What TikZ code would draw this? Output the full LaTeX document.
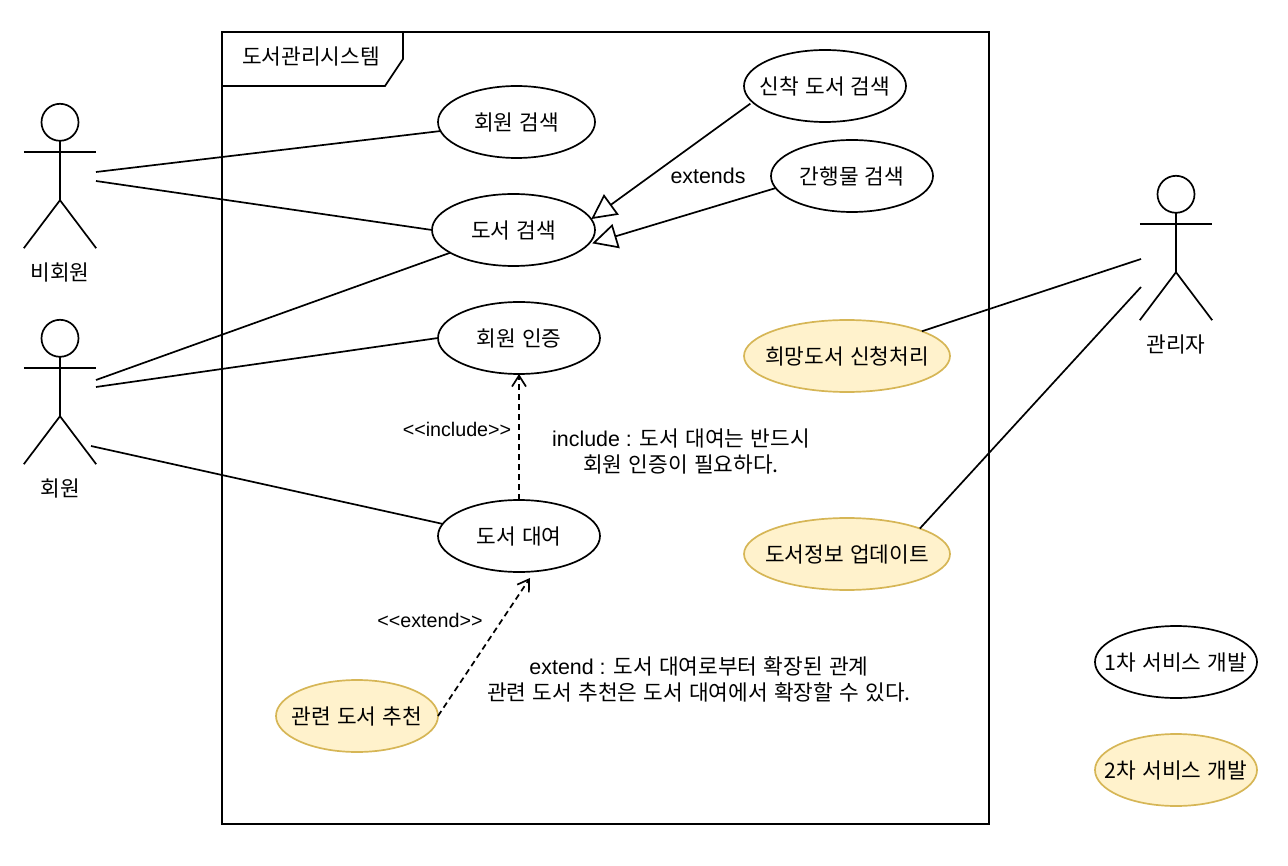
\documentclass[tikz,border=0pt]{standalone}
\usepackage{fontspec}
\setmainfont{Liberation Sans}
\newfontfamily\kr[WordSpace=1.3]{Noto Sans CJK KR}
\usetikzlibrary{arrows.meta,positioning,shapes.geometric}

\newcommand{\uc}[1]{\makebox[0pt]{\kr #1}}
\newcommand{\actor}[3]{%
    \node[actorbox] (#1) at #2 {};
    \draw[line] ([yshift=-18.5pt]#1.north) circle[radius=18.5pt];
    \draw[line] ([yshift=-37pt]#1.north) -- ([yshift=48pt]#1.south)
        -- (#1.south west) ([yshift=48pt]#1.south) -- (#1.south east);
    \draw[line] ([yshift=24pt]#1.west) -- ([yshift=24pt]#1.east);
    \node[label, below=14pt of #1] (#1label) {\kr #3};
}

\begin{document}
\begin{tikzpicture}[
    x=1pt,
    y=-1pt,
    node distance=36pt,
    every node/.style={font=\fontsize{21.4}{26}\selectfont},
    line/.style={line width=1.7pt, draw=black},
    label/.style={inner sep=0pt, align=center},
    stereotype/.style={label, font=\fontsize{19.7}{24}\selectfont},
    actorbox/.style={rectangle, minimum width=72pt, minimum height=144pt, inner sep=0pt},
    usecase/.style={
        ellipse,
        line,
        fill=white,
        minimum width=162pt,
        minimum height=72pt,
        inner sep=0pt,
        outer sep=0pt
    },
    later/.style={usecase, draw=tan, fill=cream},
    wide/.style={minimum width=206pt},
    generalize/.style={line, -{Triangle[open, length=25pt, width=25pt, fill=white]}},
    dep/.style={line, dash pattern=on 6pt off 4pt, -{Straight Barb[length=11pt, width=14pt]}}
]
\definecolor{tan}{HTML}{D6B656}
\definecolor{cream}{HTML}{FFF2CC}
\useasboundingbox (0,0) rectangle (1288,866);

\node[rectangle, line, minimum width=767pt, minimum height=792pt, inner sep=0pt, outer sep=0pt] (system) at (605.5,428) {};
\coordinate (tabtop) at (403,32);
\coordinate (tabside) at (403,59);
\coordinate (tabfoot) at (385,86);
\coordinate (tableft) at (222,86);
\draw[line] (tabtop) -- (tabside) -- (tabfoot) -- (tableft);
\node[label] (systemname) at (311,57) {\kr 도서관리시스템};

\actor{guest}{(60,176)}{비회원}
\actor{member}{(60,392)}{회원}
\actor{admin}{(1176,248)}{관리자}

\node[usecase, minimum width=157pt] (memsearch) at (516.5,122) {\uc{회원 검색}};
\node[usecase, minimum width=163pt, below=36pt of memsearch.south, anchor=north, xshift=-3pt] (booksearch) {\uc{도서 검색}};
\node[usecase, below=36pt of booksearch.south, anchor=north, xshift=5.5pt] (auth) {\uc{회원 인증}};
\node[usecase, below=126pt of auth.south, anchor=north] (loan) {\uc{도서 대여}};
\node[later, below=108pt of loan.south, anchor=north, xshift=-162pt] (recommend) {\uc{관련 도서 추천}};
\node[usecase] (newsearch) at (825,86) {\uc{신착 도서 검색}};
\node[usecase, below=18pt of newsearch.south, anchor=north, xshift=27pt] (periodical) {\uc{간행물 검색}};
\node[later, wide] (wish) at (847,356) {\uc{희망도서 신청처리}};
\node[later, wide, below=126pt of wish.south, anchor=north] (update) {\uc{도서정보 업데이트}};
\node[usecase] (firstkey) at (1176,662) {\uc{1차 서비스 개발}};
\node[later, below=36pt of firstkey.south, anchor=north] (secondkey) {\uc{2차 서비스 개발}};

\node[label] (extendslabel) at (708,176) {extends};
\node[stereotype] (includelabel) at (457,429) {<{}<include>{}>};
\node[label] (includenote) at (681,451) {include : {\kr 도서 대여는 반드시}\\{\kr 회원 인증이 필요하다.}};
\node[stereotype] (extendlabel) at (430,620) {<{}<extend>{}>};
\node[label] (extendnote) at (699,679) {extend : {\kr 도서 대여로부터 확장된 관계}\\{\kr 관련 도서 추천은 도서 대여에서 확장할 수 있다.}};

\coordinate (guestA) at (96,172);
\coordinate (guestB) at (96,181);
\coordinate (memberA) at (96,380);
\coordinate (memberB) at (96,387);
\coordinate (memberC) at (91,446);
\coordinate (adminA) at (1141,259);
\coordinate (adminB) at (1141,287);

\draw[line] (guestA) -- (memsearch);
\draw[line] (guestB) -- (booksearch.west);
\draw[line] (memberA) -- (booksearch);
\draw[line] (memberB) -- (auth.west);
\draw[line] (memberC) -- (loan.171);
\draw[line] (adminA) -- (wish);
\draw[line] (adminB) -- (update.north east);
\draw[generalize] ([xshift=-4pt]newsearch.194) -- (booksearch.8);
\draw[generalize] (periodical.189) -- ([xshift=3pt]booksearch.-10);
\draw[dep] (loan.north) -- (auth.south);
\draw[dep] (recommend.east) -- ([shift={(11pt,-6pt)}]loan.south);

\end{tikzpicture}
\end{document}
